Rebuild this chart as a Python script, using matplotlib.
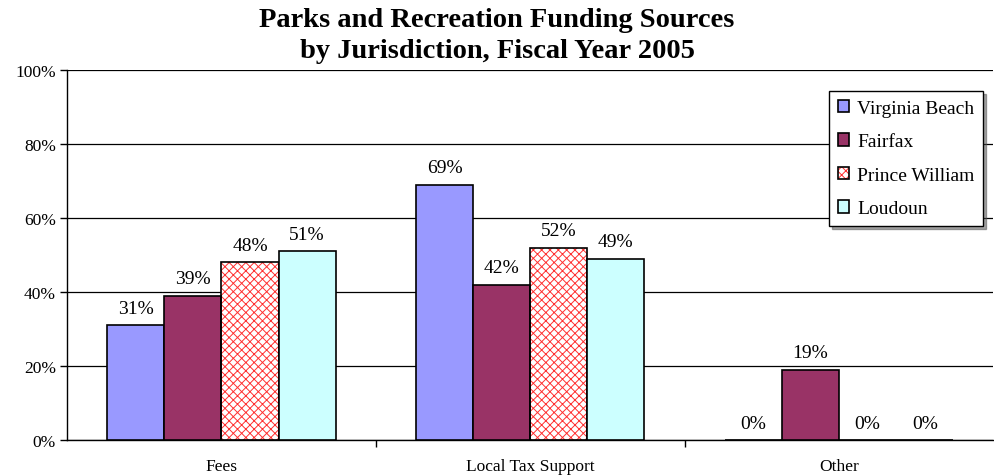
import matplotlib.pyplot as plt
from matplotlib.patches import Patch
import numpy as np

categories = ["Fees", "Local Tax Support", "Other"]
jurisdictions = ["Virginia Beach", "Fairfax", "Prince William", "Loudoun"]
virginia_beach = [31, 69, 0]
fairfax = [39, 42, 19]
prince_william = [48, 52, 0]
loudoun = [51, 49, 0]
yticks = [0, 20, 40, 60, 80, 100]

plt.rcParams['font.family'] = ['Liberation Serif', 'DejaVu Serif']
plt.rcParams['hatch.linewidth'] = 0.7

fig = plt.figure(figsize=(9.94, 4.77), dpi=100)
ax = fig.add_axes([0.0674, 0.0755, 0.932, 0.776])

series = [virginia_beach, fairfax, prince_william, loudoun]
colors = ["#9999FF", "#993366", "white", "#CCFFFF"]
width = 0.185
x = np.arange(len(categories))
handles = []

for i, (vals, col) in enumerate(zip(series, colors)):
    pos = x + (i - 1.5) * width
    if jurisdictions[i] == "Prince William":
        # red lattice fill, then black outline on top
        ax.bar(pos, vals, width, color="white", edgecolor="#FF3030",
               hatch="xxxx", linewidth=0, zorder=2)
        ax.bar(pos, vals, width, color="none", edgecolor="black",
               linewidth=1.2, zorder=3)
        handles.append((Patch(facecolor="white", edgecolor="#FF3030", hatch="xxxx", linewidth=0),
                        Patch(facecolor="none", edgecolor="black", linewidth=1.2)))
    else:
        ax.bar(pos, vals, width, color=col, edgecolor="black",
               linewidth=1.2, zorder=3)
        handles.append(Patch(facecolor=col, edgecolor="black", linewidth=1.2))
    for px, v in zip(pos, vals):
        ax.annotate("{}%".format(v), (px, v), xytext=(0, 6),
                    textcoords="offset points", ha="center", va="bottom",
                    fontsize=14)

ax.set_xlim(-0.5, 2.5)
ax.set_ylim(0, 100)
ax.set_yticks(yticks)
ax.set_yticklabels(["{}%".format(t) for t in yticks], fontsize=12.5)
ax.yaxis.grid(True, color="black", linewidth=0.9)
ax.set_axisbelow(True)

ax.set_xticks([0.5, 1.5])
ax.set_xticklabels([])
ax.tick_params(axis="x", length=5, width=1)
ax.tick_params(axis="y", length=5, width=1, pad=3)
for i, c in enumerate(categories):
    ax.text(i, -4.8, c, ha="center", va="top", fontsize=12.5,
            transform=ax.transData)

ax.spines["top"].set_visible(False)
ax.spines["right"].set_visible(False)
ax.spines["left"].set_linewidth(1)
ax.spines["bottom"].set_linewidth(1)

fig.text(0.5, 0.983, "Parks and Recreation Funding Sources\nby Jurisdiction, Fiscal Year 2005",
         ha="center", va="top", fontsize=20.5, fontweight="bold", linespacing=1.3)

leg = ax.legend(handles, jurisdictions, loc="upper right", bbox_to_anchor=(0.989, 0.943),
                fontsize=14, frameon=True, fancybox=False, shadow=True,
                handlelength=0.6, handleheight=0.6, handletextpad=0.4,
                labelspacing=0.85, borderpad=0.45, borderaxespad=0)
leg.get_frame().set_edgecolor("black")
leg.get_frame().set_linewidth(1)

fig.savefig("out.png", dpi=100)
